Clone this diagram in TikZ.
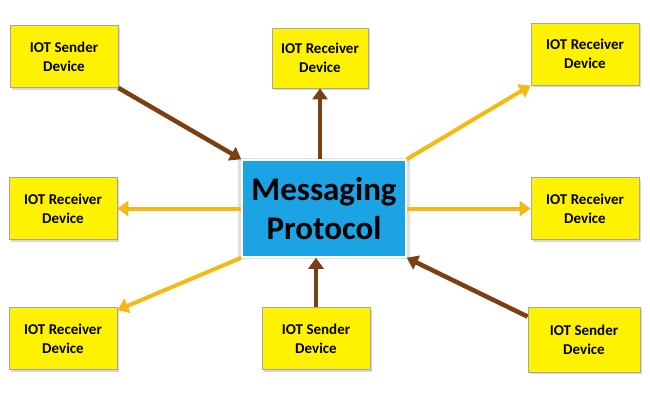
\documentclass[tikz,border=0pt]{standalone}
\usepackage{fontspec}
\setmainfont{Carlito}
\usetikzlibrary{shadows,arrows.meta}
\definecolor{dev}{HTML}{FFF200}
\definecolor{cen}{HTML}{1BA3E3}
\definecolor{brn}{HTML}{7B3F14}
\definecolor{ylw}{HTML}{F5B914}
\tikzset{
 devbox/.style={draw=gray!70,line width=0.8pt,fill=dev,minimum width=108pt,minimum height=62pt,align=center,font=\bfseries\fontsize{15}{19}\selectfont,drop shadow={shadow xshift=2pt,shadow yshift=-2pt,fill=gray!60}},
 cenbox/.style={draw=white,line width=1.5pt,fill=cen,minimum width=164pt,minimum height=97pt,align=center,font=\bfseries\fontsize{33}{39}\selectfont,drop shadow={shadow xshift=0pt,shadow yshift=0pt,fill=gray!50,shadow scale=1.05}},
 snd/.style={draw=brn,line width=4.5pt,-{Triangle[length=11pt,width=15pt]}},
 rcv/.style={draw=ylw,line width=4pt,-{Triangle[length=11pt,width=15pt]}}
}
\begin{document}
\begin{tikzpicture}[x=1pt,y=-1pt]
\useasboundingbox (0,0) rectangle (650,400);
\node[cenbox] (c) at (324,208.5) {Messaging\\Protocol};
\node[devbox] (tl) at (64,56.5) {IOT Sender\\Device};
\node[devbox,minimum width=96pt,minimum height=60pt] (tc) at (320,58) {IOT Receiver\\Device};
\node[devbox] (tr) at (585,54) {IOT Receiver\\Device};
\node[devbox] (ml) at (63,208.5) {IOT Receiver\\Device};
\node[devbox] (mr) at (585,208.5) {IOT Receiver\\Device};
\node[devbox] (bl) at (63,338.5) {IOT Receiver\\Device};
\node[devbox] (bc) at (316,338.5) {IOT Sender\\Device};
\node[devbox,minimum width=112pt,minimum height=65pt] (br) at (584,339.5) {IOT Sender\\Device};
\draw[snd] (tl.south east) -- (c.north west);
\draw[snd] (c.north -| tc.south) -- (tc.south);
\draw[rcv] (c.north east) -- (tr.south west);
\draw[rcv] (c.west) -- (ml.east);
\draw[rcv] (c.east) -- (mr.east -| mr.west);
\draw[rcv] (c.south west) -- ([yshift=-3pt]bl.north east);
\draw[snd] (bc.north) -- (c.south -| bc.north);
\draw[snd] ([yshift=-10pt]br.north west) -- (c.south east);
\end{tikzpicture}
\end{document}
